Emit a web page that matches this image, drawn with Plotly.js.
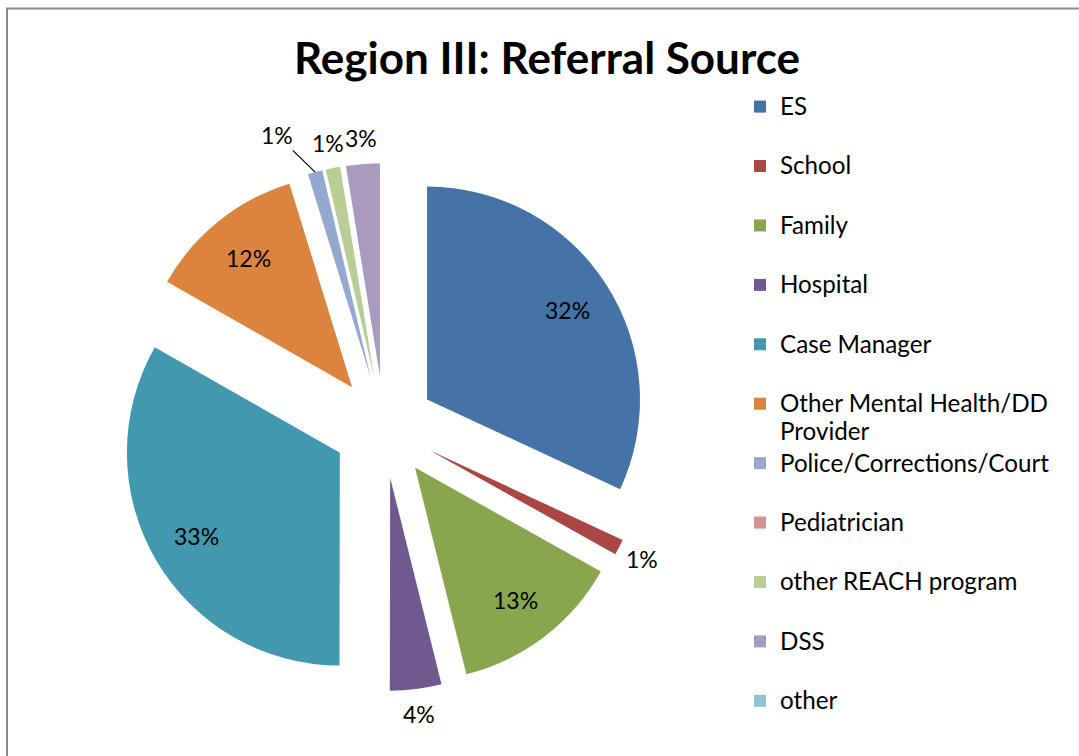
<!DOCTYPE html>
<html><head><meta charset="utf-8">
<script src="https://cdn.plot.ly/plotly-3.0.1.min.js"></script>
<style>html,body{margin:0;padding:0;background:#fff}#chart{width:1079px;height:756px}</style>
</head><body><div id="chart"></div>
<script>
// Data
const categories = ['ES','School','Family','Hospital','Case Manager','Other Mental Health/DD Provider','Police/Corrections/Court','Pediatrician','other REACH program','DSS','other'];
const shares = [31.9, 1.2, 13.0, 3.9, 33.2, 12.0, 1.1, 0, 1.1, 2.55, 0];
const sliceColors = ['#4572A7','#AA4643','#89A54E','#71588F','#4198AF','#DB843D','#93A9CF','#D19392','#B9CD96','#A99BBD','#92C3D5'];
const chartTitle = 'Region III: Referral Source';

const W = 1079, H = 756;
const cx = 384, cy = 427, half = 264, pullFrac = 0.24;
const rad = half / (1 + pullFrac);
const FONT = 'Lato, sans-serif';
const LABEL_SIZE = 23;

// Legend labels: long label wrapped; others padded to two lines for even spacing
const legendLabels = categories.map(c => {
  const t = c === 'Other Mental Health/DD Provider' ? 'Other Mental Health/DD<br>Provider' : c + '<br> ';
  return t.split('<br>').map(s => '<span style="font-size:24.2px">' + s + '</span>').join('<br>');
});

// Percentage labels placed along each slice's mid-angle (inside for large slices, outside for small ones)
const total = shares.reduce((a, b) => a + b, 0);
const insideDist = pullFrac + 0.78, outsideDist = pullFrac + 1.12;
let cum = 0;
const info = shares.map((v, i) => { const mid = (cum + v / 2) / total * 2 * Math.PI; cum += v; return {v, i, mid}; });
const annotations = [];
const placed = [];
info.slice().reverse().forEach(d => {
  if (d.v <= 0) return;
  const s = Math.sin(d.mid), c = Math.cos(d.mid);
  const txt = Math.round(d.v / total * 100) + '%';
  const inside = d.v >= 5;
  const dist = inside ? insideDist : outsideDist;
  let px = cx + dist * rad * s, py = cy - dist * rad * c;
  const font = {family: FONT, size: LABEL_SIZE, color: '#000'};
  const plain = (x, y) => ({x: x / W, y: 1 - y / H, xref: 'paper', yref: 'paper', showarrow: false,
                             xanchor: 'center', yanchor: 'middle', text: txt, font});
  if (inside) { annotations.push(plain(px, py)); return; }
  const w = txt.length * 12.5;
  let moved = false;
  placed.forEach(p => {
    if (Math.abs(px - p.x) < (w + p.w) / 2 + 4 && Math.abs(py - p.y) < 24) {
      px = s < 0 ? p.x - (w + p.w) / 2 - 26 : p.x + (w + p.w) / 2 + 26;
      py = p.y - 8; moved = true;
    }
  });
  placed.push({x: px, y: py, w});
  if (moved) {
    const tx = cx + (pullFrac + 1) * rad * s, ty = cy - (pullFrac + 1) * rad * c;
    annotations.push({x: tx / W, y: 1 - ty / H, xref: 'paper', yref: 'paper', showarrow: true,
      ax: px - tx, ay: py - ty, arrowhead: 0, arrowwidth: 1.2, arrowcolor: '#000', standoff: 0, startstandoff: 0,
      text: txt, font});
  } else {
    annotations.push(plain(px, py));
  }
});

const trace = {
  type: 'pie',
  labels: legendLabels,
  values: shares,
  sort: false,
  direction: 'clockwise',
  rotation: 0,
  pull: shares.map(() => pullFrac),
  marker: {colors: sliceColors, line: {width: 0}},
  textinfo: 'none',
  hoverinfo: 'percent',
  domain: {x: [(cx - half) / W, (cx + half) / W], y: [1 - (cy + half) / H, 1 - (cy - half) / H]},
  automargin: false
};

const layout = {
  width: W, height: H,
  margin: {l: 0, r: 0, t: 0, b: 0},
  paper_bgcolor: '#fff',
  font: {family: FONT, color: '#000'},
  title: {text: '<b>' + chartTitle + '</b>', font: {family: FONT, size: 44, color: '#000'},
          x: 547 / W, xanchor: 'center', xref: 'container', y: 1 - 59 / H, yanchor: 'middle', yref: 'container'},
  showlegend: true,
  legend: {x: 740 / W, xanchor: 'left', y: 1 - 86 / H, yanchor: 'top', valign: 'top',
           font: {family: FONT, size: 21.7, color: '#000'}, bgcolor: 'rgba(0,0,0,0)', traceorder: 'normal'},
  annotations: annotations,
  shapes: [{type: 'rect', xref: 'paper', yref: 'paper', x0: 7 / W, x1: 1.05, y0: -0.05, y1: 1 - 8.5 / H,
            line: {color: '#8a8a8a', width: 2}, fillcolor: 'rgba(0,0,0,0)'}]
};

Plotly.newPlot('chart', [trace], layout, {displayModeBar: false, staticPlot: true});
</script>
</body></html>
